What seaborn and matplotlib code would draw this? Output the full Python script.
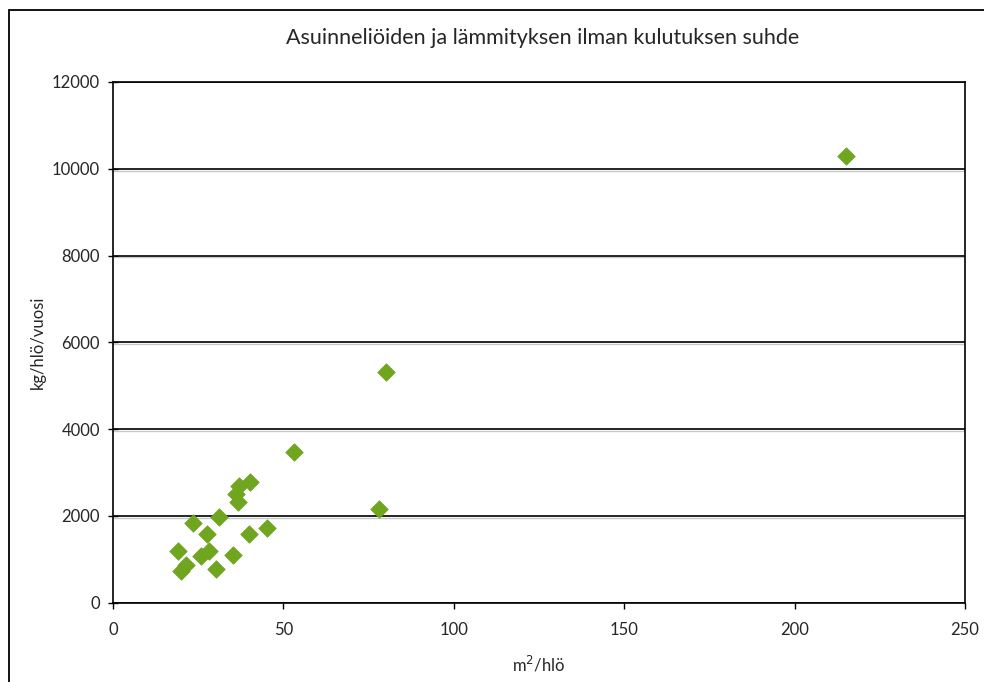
import matplotlib
matplotlib.use("Agg")
import matplotlib.pyplot as plt
import seaborn as sns
import pandas as pd
from matplotlib.patches import Rectangle

# Data (m2 per person, kg per person per year)
area_m2 = [215, 80, 78, 53, 40.3, 37.1, 36.1, 36.8, 23.6, 31.2, 27.7, 40.0, 45.2,
           19.0, 28.3, 25.7, 35.1, 20.0, 21.5, 30.3]
kg_year = [10300, 5310, 2150, 3460, 2780, 2680, 2510, 2320, 1830, 1970, 1585, 1590, 1720,
           1180, 1180, 1065, 1085, 720, 860, 780]
title = "Asuinneliöiden ja lämmityksen ilman kulutuksen suhde"
x_label = "m$^2$/hlö"
y_label = "kg/hlö/vuosi"
x_ticks = [0, 50, 100, 150, 200, 250]
y_ticks = [0, 2000, 4000, 6000, 8000, 10000, 12000]

df = pd.DataFrame({"x": area_m2, "y": kg_year})

sns.set_theme(style="white")
plt.rcParams["font.family"] = ["Lato", "DejaVu Sans"]

fig = plt.figure(figsize=(9.84, 6.82), dpi=100)
ax = fig.add_axes([113 / 984, 1 - 602.5 / 682, (965 - 113) / 984, (602.5 - 82) / 682])

# outer chart-area frame
fig.patches.append(Rectangle((9 / 984, -0.05), 1.1, 1 - 9.5 / 682 + 0.05,
                             transform=fig.transFigure, fill=False,
                             edgecolor="black", linewidth=1.3, zorder=0))

ax.grid(False)
for yv in y_ticks[1:-1]:
    ax.axhline(yv - 45, color="#c8c8c8", linewidth=1.0, zorder=1)
for yv in y_ticks:
    ax.axhline(yv, color="black", linewidth=1.2, zorder=2)

sns.scatterplot(data=df, x="x", y="y", ax=ax, marker="D", s=80,
                color="#6fa51f", edgecolor="#6fa51f", linewidth=0.5, zorder=3)

ax.set_xlim(0, 250)
ax.set_ylim(0, 12000)
ax.set_xticks(x_ticks)
ax.set_yticks(y_ticks)
ax.set_xticklabels([str(v) for v in x_ticks], fontsize=12)
ax.set_yticklabels([str(v) for v in y_ticks], fontsize=12)
ax.tick_params(axis="x", direction="out", length=4, width=1, color="black", pad=10, bottom=True)
ax.tick_params(axis="y", direction="inout", length=7, width=1, color="black", pad=6, left=True)

for sp in ax.spines.values():
    sp.set_visible(True)
    sp.set_color("black")
    sp.set_linewidth(1.2)

ax.set_xlabel(x_label, fontsize=12, labelpad=12)
ax.set_ylabel("")
fig.text(38 / 984, 1 - 342 / 682, y_label, rotation=90, ha="center", va="center", fontsize=12)
fig.text(543 / 984, 1 - 38 / 682, title, ha="center", va="center", fontsize=15.5)

fig.savefig("out.png", dpi=100)
